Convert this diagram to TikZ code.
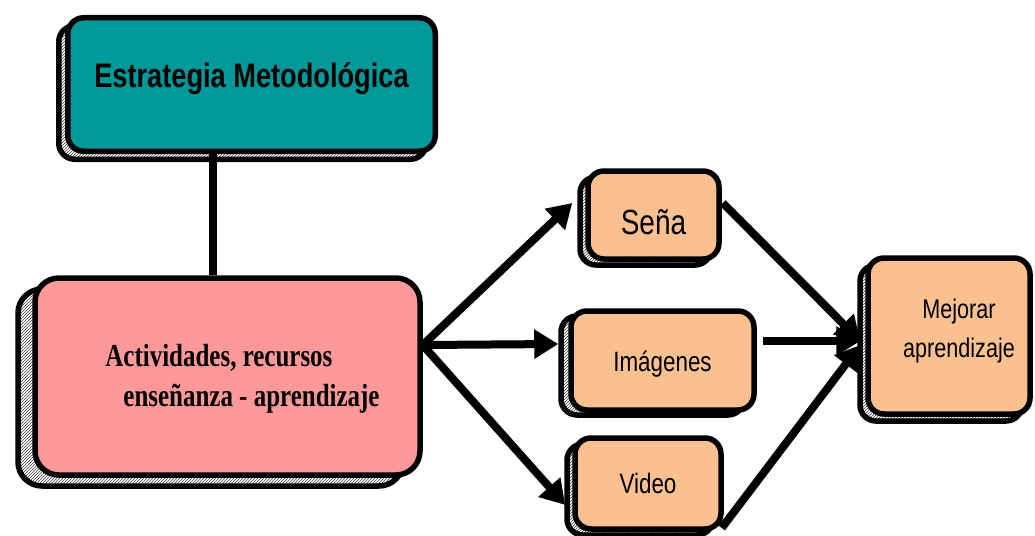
\documentclass[tikz,border=0pt]{standalone}
\usepackage{fontspec}
\usetikzlibrary{arrows.meta,shadows,patterns,calc}
\newfontfamily\arialn[FakeStretch=0.8]{Liberation Sans}
\newfontfamily\timesn[FakeStretch=0.78]{Liberation Serif}
\definecolor{tealBox}{HTML}{009999}
\definecolor{pinkBox}{HTML}{FF9999}
\definecolor{peachBox}{HTML}{FAC090}
\tikzset{
	box/.style={draw=black, line width=5.5pt, rounded corners=16pt, inner sep=0pt, align=center},
	shade/.style args={#1 and #2}{general shadow={shadow xshift=#1, shadow yshift=#2,
			draw=black, line width=5.5pt, pattern=north east lines, pattern color=black!75}},
	sansfnt/.style={font=\arialn\fontsize{#1}{#1}\selectfont}
}

\begin{document}
\begin{tikzpicture}[x=1pt,y=-1pt,->,>={Triangle[length=24pt,width=28pt]},line width=8pt]
	\useasboundingbox (0,0) rectangle (1035,535);
	\clip (0,0) rectangle (1035,535);
	\node[box, fill=tealBox, minimum width=367.5pt, minimum height=133.5pt, shade={-9pt and -8pt},
		font=\arialn\bfseries\fontsize{34}{40}\selectfont] (estr) at (251.5,84.5) {\raisebox{6pt}[\height][\depth]{Estrategia Metodológica}};
	\node[box, fill=pinkBox, rounded corners=24pt, minimum width=385pt, minimum height=197pt, shade={-17pt and -11pt},
		font=\timesn\bfseries\fontsize{32}{40}\selectfont] (actv) at (227.5,376.5) {\hspace*{30pt}\raisebox{-2pt}[\height][\depth]{\begin{tabular}{l}
			Actividades, recursos \\ \hspace*{18pt}enseñanza - aprendizaje
		\end{tabular}}};
	\node[box, fill=peachBox, minimum width=131pt, minimum height=88pt, shade={-8pt and -6pt},
		sansfnt=35] (sena) at (653.5,215) {\raisebox{-7pt}[\height][\depth]{Seña}};
	\node[box, fill=peachBox, minimum width=183pt, minimum height=99pt, shade={-10pt and -5pt},
		sansfnt=28] (imag) at (662.5,360.5) {\raisebox{-4pt}[\height][\depth]{Imágenes}};
	\node[box, fill=peachBox, minimum width=146pt, minimum height=91pt, shade={-8pt and -6pt},
		sansfnt=28] (video) at (648,483.5) {Video};
	\node[box, fill=peachBox, minimum width=162pt, minimum height=156pt, shade={-8pt and -7pt},
		font=\arialn\fontsize{27}{39}\selectfont] (mejor) at (949,336) {\hspace*{20pt}\raisebox{6pt}[\height][\depth]{\begin{tabular}{c}
			Mejorar \\ aprendizaje
		\end{tabular}}};
	
	\coordinate (hubL) at ($(actv.east)+(0,-31.5)$);
	\coordinate (hubR) at ($(mejor.west)+(-5,5)$);
	\coordinate (linkTop) at ($(estr.south)+(-38.5,0)$);
	\coordinate (imagOut) at ($(imag.east)+(6,0)$);
	
	\draw[-] (linkTop) -- (linkTop |- actv.north);
	\path (hubL) edge ($(sena.west)+(-13,-12)$);
	\path (hubL) edge ($(imag.west)+(-10,-16.5)$);
	\path (hubL) edge ($(video.west)+(-7,21.5)$);
	\path ($(sena.east)+(1,-12)$) edge (hubR);
	\path (imagOut |- hubR) edge (hubR);
	\path ($(video.east)+(-2,44.5)$) edge ($(hubR)+(0,4)$);
\end{tikzpicture}
\end{document}
